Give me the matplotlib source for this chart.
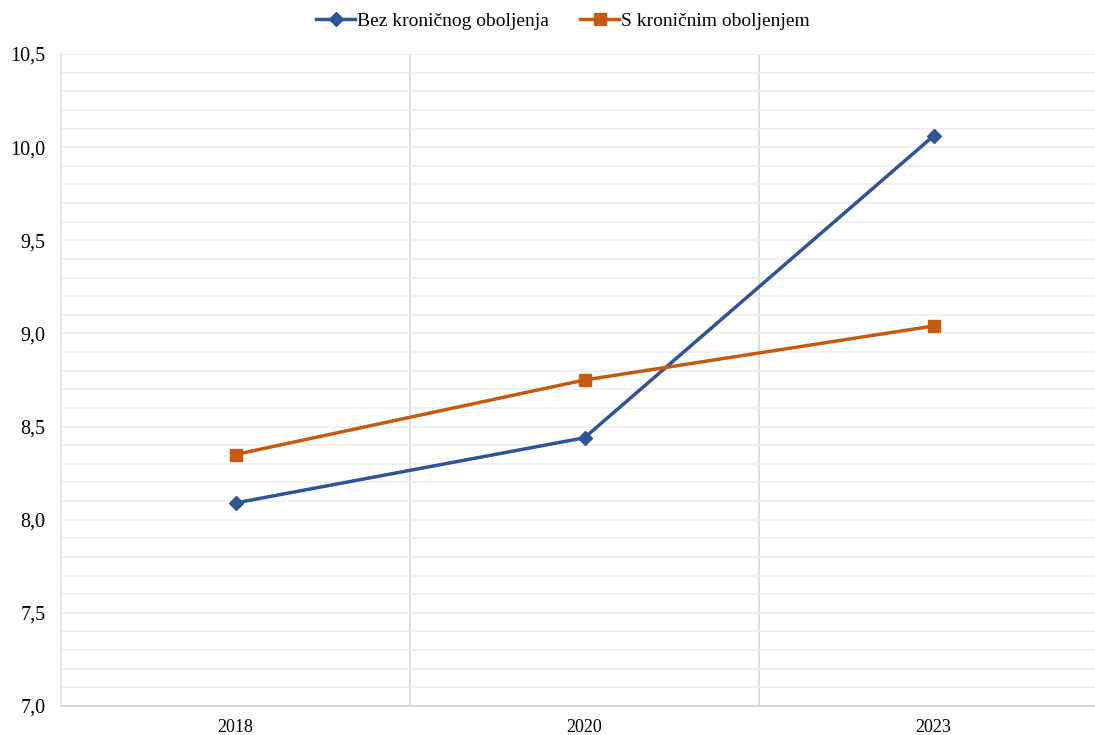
import matplotlib
matplotlib.use("Agg")
from matplotlib import pyplot as plt
from matplotlib.ticker import MultipleLocator, FixedLocator, FuncFormatter
import numpy as np

years = ["2018", "2020", "2023"]
bez_kronicnog = [8.09, 8.44, 10.06]
s_kronicnim = [8.35, 8.75, 9.04]
labels = ["Bez kroničnog oboljenja", "S kroničnim oboljenjem"]

plt.rcParams['font.family'] = ['Liberation Serif', 'DejaVu Serif']

W, H = 1095, 735
fig = plt.figure(figsize=(W / 100, H / 100), dpi=100)
# plot area runs past the right edge of the picture, as in the source
ax = fig.add_axes([61 / W, (H - 706) / H, (1108 - 61) / W, (706 - 54) / H])

x = np.arange(len(years))
ax.plot(x, bez_kronicnog, color='#2F5597', lw=2.5, marker='D', ms=7,
        label=labels[0], zorder=3)
ax.plot(x, s_kronicnim, color='#C55A11', lw=2.5, marker='s', ms=8,
        label=labels[1], zorder=3)

ax.set_xlim(-0.5, len(years) - 0.5)
ax.set_ylim(7.0, 10.5)

ax.set_xticks(x)
ax.set_xticklabels(years)
ax.xaxis.set_minor_locator(FixedLocator(np.arange(0.5, len(years) - 0.5)))
ax.yaxis.set_major_locator(MultipleLocator(0.5))
ax.yaxis.set_minor_locator(MultipleLocator(0.1))
ax.yaxis.set_major_formatter(FuncFormatter(lambda v, p: f"{v:.1f}".replace(".", ",")))

ax.grid(axis='y', which='both', color='#efefef', lw=1.2, zorder=0)
ax.grid(axis='x', which='minor', color='#d6d6d6', lw=1.2, zorder=0)
ax.tick_params(axis='both', which='both', length=0)
ax.tick_params(axis='y', labelsize=14.5, pad=11)
ax.tick_params(axis='x', labelsize=13, pad=9)

for side in ['top', 'right']:
    ax.spines[side].set_visible(False)
ax.spines['left'].set_color('#e3e3e3')
ax.spines['left'].set_linewidth(1.2)
ax.spines['bottom'].set_color('#cfcfcf')
ax.spines['bottom'].set_linewidth(1.2)

fig.legend(loc='center', bbox_to_anchor=(563 / W, (H - 21) / H), ncol=2,
           frameon=False, fontsize=14, handlelength=2.0, handletextpad=0.1,
           columnspacing=1.6)

fig.savefig("out.png", dpi=100)
